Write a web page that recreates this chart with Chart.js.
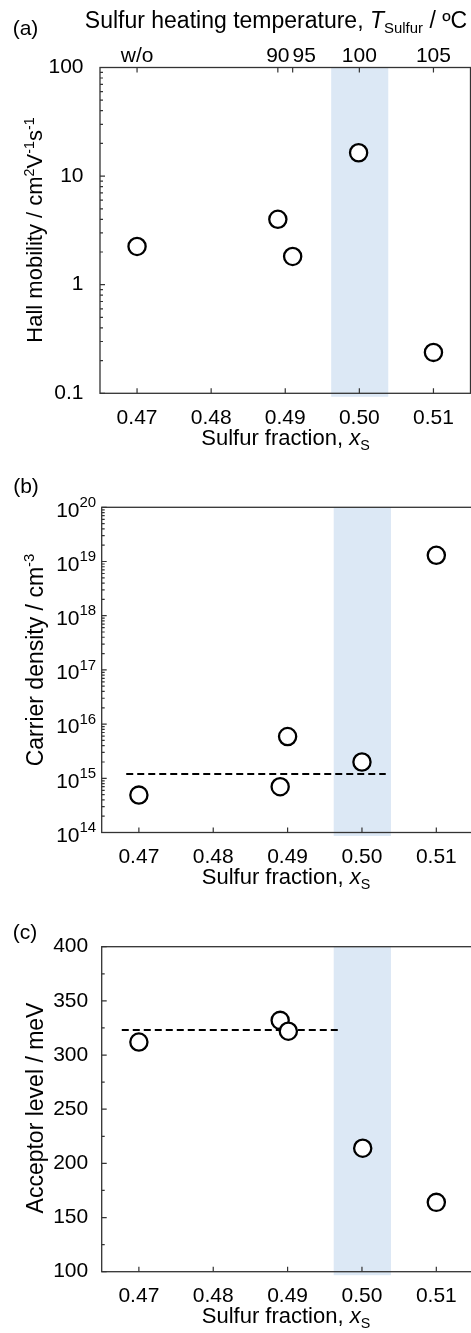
<!DOCTYPE html>
<html>
<head>
<meta charset="utf-8">
<script src="https://cdn.jsdelivr.net/npm/chart.js@4.4.1/dist/chart.umd.min.js"></script>
<style>
  html, body { margin: 0; overflow: hidden; }
  body { width: 471px; height: 1333px; background: #fff; position: relative;
         font-family: "Liberation Sans", Arial, sans-serif; color: #000; }
  .box { position: absolute; left: 0; width: 476px; height: 440px; }
  .t { position: absolute; font-size: 22px; line-height: 1; white-space: nowrap; transform: translate(-50%, -50%); }
  .r { transform: translate(-50%, -50%) rotate(-90deg); }
  .p { font-size: 21px; }
  sub, sup { font-size: 0.65em; line-height: 0; }
</style>
</head>
<body>
<div class="box" style="top:0"><canvas id="chartA"></canvas></div>
<div class="box" style="top:440px"><canvas id="chartB"></canvas></div>
<div class="box" style="top:880px"><canvas id="chartC"></canvas></div>

<div class="t p" style="left:25.5px;top:27px">(a)</div>
<div class="t p" style="left:26px;top:485px">(b)</div>
<div class="t p" style="left:25px;top:931px">(c)</div>

<div class="t" style="left:276px;top:19.5px;font-size:23px">Sulfur heating temperature, <i>T</i><sub>Sulfur</sub> / ºC</div>
<div class="t r" style="left:35px;top:230px">Hall mobility / cm<sup>2</sup>V<sup>-1</sup>s<sup>-1</sup></div>
<div class="t r" style="left:35px;top:660px;font-size:23px">Carrier density / cm<sup>-3</sup></div>
<div class="t r" style="left:35px;top:1108px;font-size:23px">Acceptor level / meV</div>
<div class="t" style="left:285.5px;top:438px">Sulfur fraction, <i>x</i><sub>S</sub></div>
<div class="t" style="left:286px;top:877px">Sulfur fraction, <i>x</i><sub>S</sub></div>
<div class="t" style="left:286px;top:1316px">Sulfur fraction, <i>x</i><sub>S</sub></div>

<script>
// x axis (sulfur fraction)
const xMin = 0.465;
const xMax = 0.515;
const xTicks = [0.47, 0.48, 0.49, 0.50, 0.51];

// top axis of (a): sulfur heating temperature
const tempTicks = [0.470, 0.489, 0.491, 0.500, 0.510];
const tempLabels = ['w/o', '90', '95', '100', '105'];

// shaded range around x = 0.50
const band = [0.4962, 0.5039];

// (a) Hall mobility
const mobilityX = [0.470, 0.4890, 0.4910, 0.4999, 0.5100];
const mobility = [2.25, 4.0, 1.82, 16.4, 0.238];

// (b) carrier density
const densityX = [0.470, 0.4890, 0.4900, 0.5000, 0.5100];
const density = [4.9e14, 7.0e14, 5.9e15, 2.0e15, 1.3e19];
const densityLineX = [0.4683, 0.5032];
const densityLine = [1.2e15, 1.2e15];

// (c) acceptor level
const acceptorX = [0.470, 0.4890, 0.4901, 0.5001, 0.5100];
const acceptor = [312, 332, 322, 214, 164];
const acceptorLineX = [0.4677, 0.4971];
const acceptorLine = [323, 323];

Chart.defaults.font.family = '"Liberation Sans", Arial, sans-serif';
Chart.defaults.color = '#000';

function pts(xs, ys) { return xs.map((x, i) => ({x: x, y: ys[i]})); }

function logTicks(e0, e1) {
    let out = [];
    for (let e = e0; e < e1; e++) {
        for (let m = 1; m <= 9; m++) out.push({value: m * Math.pow(10, e)});
    }
    out.push({value: Math.pow(10, e1)});
    return out;
}

function isDecade(v) {
    const l = Math.log10(v);
    return Math.abs(l - Math.round(l)) < 1e-6;
}

// band, frame, inward ticks, and rich tick labels
const decor = {
    id: 'decor',
    beforeDatasetsDraw(chart) {
        const {ctx, chartArea: a, scales: {x}} = chart;
        const x0 = x.getPixelForValue(band[0]);
        const x1 = x.getPixelForValue(band[1]);
        ctx.save();
        ctx.fillStyle = 'rgb(220,232,245)';
        ctx.fillRect(x0, a.top, x1 - x0, a.bottom - a.top + 3.5);
        ctx.restore();
    },
    afterDraw(chart, args, o) {
        const {ctx, chartArea: a, scales} = chart;
        ctx.save();
        ctx.strokeStyle = '#333';
        ctx.lineWidth = 1.3;
        ctx.strokeRect(a.left, a.top, a.right - a.left, a.bottom - a.top);

        ctx.beginPath();
        ctx.lineWidth = 1.2;
        scales.x.ticks.forEach(t => {
            const p = scales.x.getPixelForValue(t.value);
            ctx.moveTo(p, a.bottom); ctx.lineTo(p, a.bottom - 5);
        });
        if (scales.x2) {
            scales.x2.ticks.forEach(t => {
                const p = scales.x2.getPixelForValue(t.value);
                ctx.moveTo(p, a.top); ctx.lineTo(p, a.top + 5);
            });
        }
        scales.y.ticks.forEach(t => {
            const p = scales.y.getPixelForValue(t.value);
            const len = o.major(t.value) ? 5 : 3;
            ctx.moveTo(a.left, p); ctx.lineTo(a.left + len, p);
        });
        ctx.stroke();

        ctx.fillStyle = '#000';
        ctx.textBaseline = 'alphabetic';
        ctx.textAlign = 'left';

        // top labels, pushed apart where they would collide
        if (scales.x2) {
            ctx.font = '21px "Liberation Sans", Arial, sans-serif';
            let prevRight = -1e9;
            scales.x2.ticks.forEach((t, i) => {
                const s = tempLabels[i];
                const w = ctx.measureText(s).width;
                let left = scales.x2.getPixelForValue(t.value) - w / 2;
                if (left < prevRight + 3) left = prevRight + 3;
                ctx.fillText(s, left, a.top - 6);
                prevRight = left + w;
            });
        }

        // 10^n labels
        if (o.powerLabels) {
            scales.y.ticks.forEach(t => {
                if (!isDecade(t.value)) return;
                const p = scales.y.getPixelForValue(t.value);
                const ex = String(Math.round(Math.log10(t.value)));
                ctx.font = '15px "Liberation Sans", Arial, sans-serif';
                const ew = ctx.measureText(ex).width;
                const ex0 = a.left - 5.5 - ew;
                ctx.fillText(ex, ex0, p - 0.4);
                ctx.font = '21px "Liberation Sans", Arial, sans-serif';
                const bw = ctx.measureText('10').width;
                ctx.fillText('10', ex0 - bw, p + 9.3);
            });
        }
        ctx.restore();
    }
};

function xScale(h) {
    return {
        type: 'linear', position: 'bottom', min: xMin, max: xMax,
        afterBuildTicks: s => { s.ticks = xTicks.map(v => ({value: v})); },
        afterFit: s => { s.height = h; },
        grid: {display: false}, border: {display: false},
        ticks: {font: {size: 21}, padding: 4, maxRotation: 0, autoSkip: false,
                callback: v => v.toFixed(2)}
    };
}

function pointSet(data) {
    return {
        type: 'scatter', data: data,
        pointRadius: 8.6, pointHoverRadius: 8.6, borderWidth: 2.3,
        borderColor: '#000', backgroundColor: '#fff'
    };
}

function lineSet(data) {
    return {
        type: 'line', data: data, showLine: true,
        borderColor: '#000', borderWidth: 2, borderDash: [7, 4],
        pointRadius: 0, fill: false
    };
}

function baseOptions(pad, scales, decorOpts) {
    return {
        responsive: true, maintainAspectRatio: false, animation: false, events: [],
        layout: {padding: pad, autoPadding: false},
        plugins: {legend: {display: false}, tooltip: {enabled: false}, decor: decorOpts},
        scales: scales
    };
}

// (a)
new Chart(document.getElementById('chartA'), {
    type: 'scatter',
    data: {datasets: [pointSet(pts(mobilityX, mobility))]},
    plugins: [decor],
    options: baseOptions({top: 37.5, left: 0, right: 5.5, bottom: 0}, {
        x: xScale(46.7),
        x2: {
            type: 'linear', position: 'top', min: xMin, max: xMax,
            afterBuildTicks: s => { s.ticks = tempTicks.map(v => ({value: v})); },
            afterFit: s => { s.height = 30; },
            grid: {display: false}, border: {display: false},
            ticks: {display: false}
        },
        y: {
            type: 'logarithmic', min: 0.1, max: 100,
            afterBuildTicks: s => { s.ticks = logTicks(-1, 2); },
            afterFit: s => { s.width = 100; },
            grid: {display: false}, border: {display: false},
            ticks: {font: {size: 21}, padding: 8.5, autoSkip: false,
                    callback: v => isDecade(v) ? String(+v.toPrecision(3)) : ''}
        }
    }, {major: isDecade})
});

// (b)
new Chart(document.getElementById('chartB'), {
    type: 'scatter',
    data: {datasets: [pointSet(pts(densityX, density)), lineSet(pts(densityLineX, densityLine))]},
    plugins: [decor],
    options: baseOptions({top: 67.3, left: 0, right: 2.5, bottom: 0}, {
        x: xScale(47.5),
        y: {
            type: 'logarithmic', min: 1e14, max: 1e20,
            afterBuildTicks: s => { s.ticks = logTicks(14, 20); },
            afterFit: s => { s.width = 101.7; },
            grid: {display: false}, border: {display: false},
            ticks: {display: false}
        }
    }, {major: isDecade, powerLabels: true})
});

// (c)
new Chart(document.getElementById('chartC'), {
    type: 'scatter',
    data: {datasets: [pointSet(pts(acceptorX, acceptor)), lineSet(pts(acceptorLineX, acceptorLine))]},
    plugins: [decor],
    options: baseOptions({top: 66.7, left: 0, right: 2.5, bottom: 0}, {
        x: xScale(48.3),
        y: {
            type: 'linear', min: 100, max: 400,
            ticks: {stepSize: 25, font: {size: 21}, padding: 5.5, autoSkip: false,
                    callback: v => v % 50 === 0 ? String(v) : ''},
            afterFit: s => { s.width = 101.7; },
            grid: {display: false}, border: {display: false}
        }
    }, {major: v => v % 50 === 0})
});
</script>
</body>
</html>
